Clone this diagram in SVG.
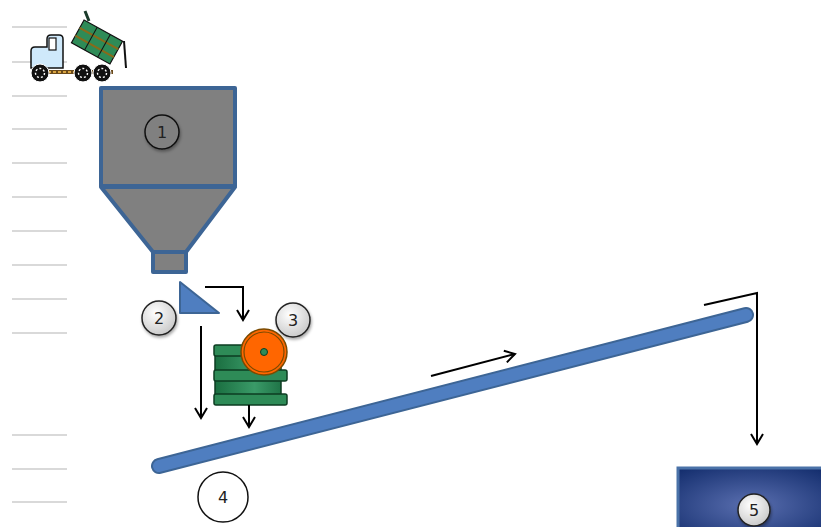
<svg xmlns="http://www.w3.org/2000/svg" width="821" height="527" viewBox="0 0 821 527">
  <defs>
    <radialGradient id="badge" cx="40%" cy="35%" r="70%">
      <stop offset="0" stop-color="#ffffff"/>
      <stop offset="1" stop-color="#c8c8c8"/>
    </radialGradient>
    <radialGradient id="tank" cx="50%" cy="60%" r="75%">
      <stop offset="0" stop-color="#5a6fb0"/>
      <stop offset="1" stop-color="#142e6e"/>
    </radialGradient>
    <linearGradient id="drum" x1="0" y1="0" x2="1" y2="0">
      <stop offset="0" stop-color="#1a6e40"/>
      <stop offset="0.6" stop-color="#3a9a68"/>
      <stop offset="1" stop-color="#1f7447"/>
    </linearGradient>
    <marker id="arrow" viewBox="0 0 14 14" refX="11" refY="7" markerWidth="14" markerHeight="14" markerUnits="userSpaceOnUse" orient="auto">
      <path d="M1,1 L11,7 L1,13" fill="none" stroke="#000" stroke-width="2"/>
    </marker>
    <filter id="shadow" x="-30%" y="-30%" width="160%" height="160%">
      <feDropShadow dx="1" dy="2" stdDeviation="1.5" flood-opacity="0.35"/>
    </filter>
  </defs>
  <style>
    .rule { stroke: #d9d9d9; stroke-width: 2; }
    .steel { fill: #808080; stroke: #3d6595; stroke-width: 4; stroke-linejoin: round; }
    .label { font-family: "DejaVu Sans", "Liberation Sans", sans-serif; font-size: 16px; fill: #222; text-anchor: middle; }
    .badge { fill: url(#badge); stroke: #222; stroke-width: 1.5; filter: url(#shadow); }
    .flow { fill: none; stroke: #000; stroke-width: 2; marker-end: url(#arrow); }
    .bar { fill: #2e8b57; stroke: #0d3d22; stroke-width: 1.5; }
  </style>

  <!-- background rules -->
  <g id="rules">
    <line class="rule" x1="12" y1="27" x2="67" y2="27"/>
    <line class="rule" x1="12" y1="62" x2="67" y2="62"/>
    <line class="rule" x1="12" y1="96" x2="67" y2="96"/>
    <line class="rule" x1="12" y1="129" x2="67" y2="129"/>
    <line class="rule" x1="12" y1="163" x2="67" y2="163"/>
    <line class="rule" x1="12" y1="197" x2="67" y2="197"/>
    <line class="rule" x1="12" y1="231" x2="67" y2="231"/>
    <line class="rule" x1="12" y1="265" x2="67" y2="265"/>
    <line class="rule" x1="12" y1="299" x2="67" y2="299"/>
    <line class="rule" x1="12" y1="333" x2="67" y2="333"/>
    <line class="rule" x1="12" y1="435" x2="67" y2="435"/>
    <line class="rule" x1="12" y1="469" x2="67" y2="469"/>
    <line class="rule" x1="12" y1="502" x2="67" y2="502"/>
  </g>

  <!-- dump truck -->
  <g id="truck">
    <line x1="38" y1="72" x2="113" y2="72" stroke="#6b4a1a" stroke-width="4"/>
    <line x1="38" y1="72" x2="113" y2="72" stroke="#d9a441" stroke-width="2" stroke-dasharray="3 2"/>
    <path d="M31,68 L31,51 Q31,47 35,47 L47,47 L47,39 Q47,35 51,35 L59,35 Q63,35 63,39 L63,68 Z" fill="#cfe9fb" stroke="#111" stroke-width="1.5"/>
    <rect x="49" y="38" width="7" height="12" fill="#fff" stroke="#111" stroke-width="1.2"/>
    <g transform="rotate(29 97 42)">
      <rect x="75" y="29" width="44" height="26" fill="#2e8b57" stroke="#111" stroke-width="1.2"/>
      <line x1="75" y1="38" x2="119" y2="38" stroke="#8a6a1a" stroke-width="2"/>
      <line x1="75" y1="47" x2="119" y2="47" stroke="#8a6a1a" stroke-width="2"/>
      <line x1="90" y1="29" x2="90" y2="55" stroke="#111" stroke-width="1"/>
      <line x1="105" y1="29" x2="105" y2="55" stroke="#111" stroke-width="1"/>
    </g>
    <line x1="85" y1="11" x2="89" y2="21" stroke="#1a3a2a" stroke-width="3"/>
    <line x1="124" y1="41" x2="126" y2="68" stroke="#111" stroke-width="2"/>
    <g fill="#111" stroke="#fff" stroke-width="1">
      <circle cx="40" cy="73" r="9"/>
      <circle cx="83" cy="73" r="9"/>
      <circle cx="102" cy="73" r="9"/>
    </g>
    <g fill="none" stroke="#fff" stroke-width="1.4" stroke-dasharray="2 2">
      <circle cx="40" cy="73" r="4.5"/>
      <circle cx="83" cy="73" r="4.5"/>
      <circle cx="102" cy="73" r="4.5"/>
    </g>
  </g>

  <!-- 1: storage hopper -->
  <g id="hopper">
    <rect class="steel" x="101" y="88" width="134" height="98"/>
    <path class="steel" d="M101,187 L235,187 L186,252 L153,252 Z"/>
    <rect class="steel" x="153" y="252" width="33" height="20"/>
    <circle cx="162" cy="132" r="17" fill="#808080" stroke="#111" stroke-width="1.5" filter="url(#shadow)"/>
    <text class="label" x="162" y="138">1</text>
  </g>

  <!-- 2: feeder plate -->
  <g id="feeder">
    <path d="M180,282 L180,313 L219,313 Z" fill="#4f7ec0" stroke="#3d6595" stroke-width="2" stroke-linejoin="round"/>
    <circle class="badge" cx="159" cy="318" r="17"/>
    <text class="label" x="159" y="324">2</text>
  </g>

  <!-- 3: roller mill -->
  <g id="mill">
    <rect x="215" y="355" width="66" height="16" fill="url(#drum)" stroke="#0d3d22" stroke-width="1.5"/>
    <rect x="215" y="380" width="66" height="16" fill="url(#drum)" stroke="#0d3d22" stroke-width="1.5"/>
    <rect class="bar" x="214" y="345" width="50" height="11" rx="2"/>
    <rect class="bar" x="214" y="370" width="73" height="11" rx="2"/>
    <rect class="bar" x="214" y="394" width="73" height="11" rx="2"/>
    <circle cx="264" cy="352" r="23" fill="#ff6600" stroke="#7a4a00" stroke-width="1.5"/>
    <circle cx="264" cy="352" r="20" fill="none" stroke="#7a4a00" stroke-width="1.2"/>
    <circle cx="264" cy="352" r="3.5" fill="#2e8b57" stroke="#0d3d22" stroke-width="1"/>
    <circle class="badge" cx="293" cy="320" r="17"/>
    <text class="label" x="293" y="326">3</text>
  </g>

  <!-- 4: inclined conveyor -->
  <g id="conveyor">
    <line x1="159" y1="466" x2="746" y2="315" stroke="#3d6595" stroke-width="16" stroke-linecap="round"/>
    <line x1="159" y1="466" x2="746" y2="315" stroke="#4f7ec0" stroke-width="12" stroke-linecap="round"/>
    <circle cx="223" cy="497" r="25" fill="#fff" stroke="#111" stroke-width="1.5"/>
    <text class="label" x="223" y="503">4</text>
  </g>

  <!-- 5: receiving bin -->
  <g id="bin">
    <rect x="678" y="468" width="145" height="62" fill="url(#tank)" stroke="#4a72a8" stroke-width="3"/>
    <circle class="badge" cx="754" cy="510" r="16"/>
    <text class="label" x="754" y="516">5</text>
  </g>

  <!-- material flow -->
  <g id="connectors">
    <path class="flow" d="M205,287 L243,287 L243,320"/>
    <path class="flow" d="M201,326 L201,418"/>
    <path class="flow" d="M249,405 L249,427"/>
    <path class="flow" d="M431,376 L515,354"/>
    <path class="flow" d="M704,305 L757,293 L757,444"/>
  </g>
</svg>
